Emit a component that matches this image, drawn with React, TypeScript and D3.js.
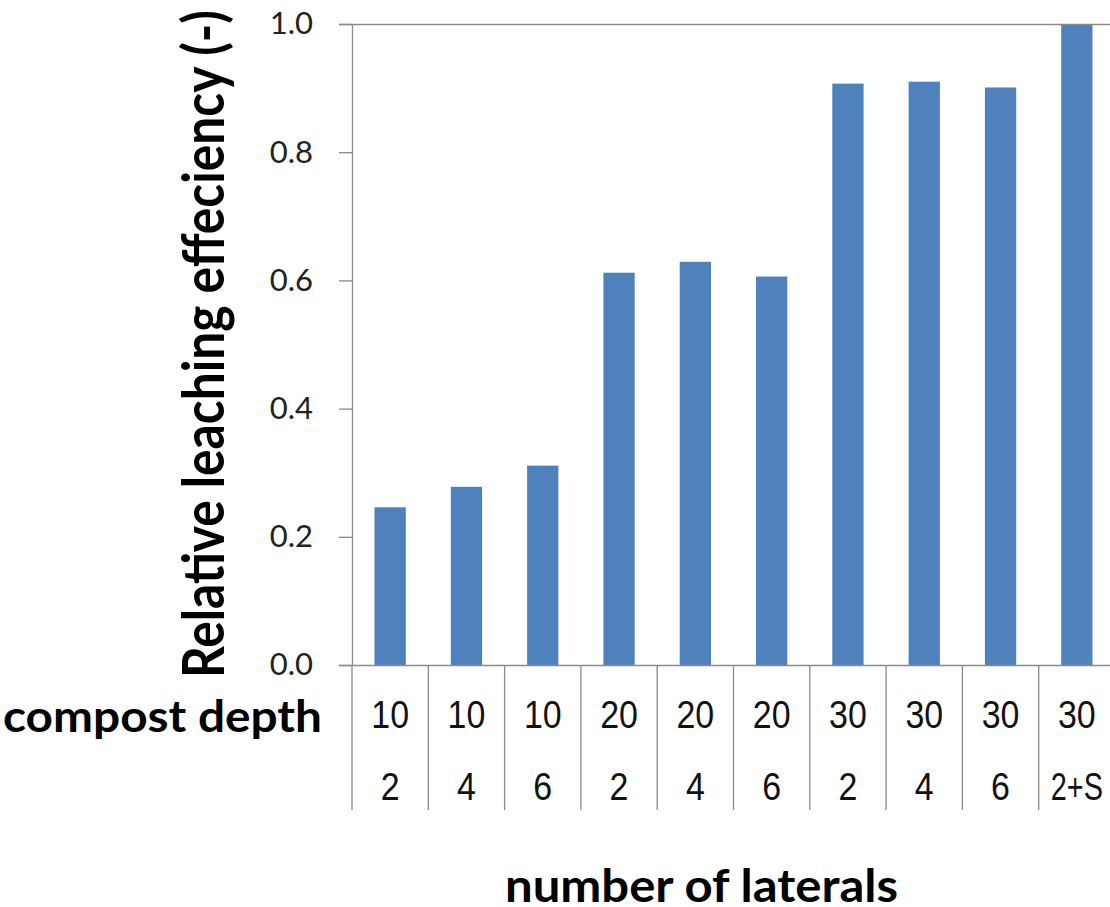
import React, { useEffect, useRef } from "react";
import * as d3 from "d3";

const compostDepth = ["10", "10", "10", "20", "20", "20", "30", "30", "30", "30"];
const laterals = ["2", "4", "6", "2", "4", "6", "2", "4", "6", "2+S"];
const efficiency = [0.246, 0.278, 0.311, 0.612, 0.629, 0.606, 0.907, 0.91, 0.901, 1.0];
const yTicks = [0, 0.2, 0.4, 0.6, 0.8, 1.0];

const App: React.FC = () => {
  const ref = useRef<SVGSVGElement | null>(null);

  useEffect(() => {
    const width = 1110;
    const height = 907;
    const left = 352;
    const right = 1115;
    const top = 24;
    const bottom = 665;
    const axisColor = "#8a8a8a";

    const svg = d3.select(ref.current);
    svg.selectAll("*").remove();
    svg.attr("width", width).attr("height", height);

    const idx = compostDepth.map((_, i) => i);

    const x = d3
      .scaleBand<number>()
      .domain(idx)
      .range([left, right])
      .paddingInner(0.59)
      .paddingOuter(0.295);

    const y = d3.scaleLinear().domain([0, 1]).range([bottom, top]);
    const step = (right - left) / idx.length;

    // bars
    svg
      .append("g")
      .selectAll("rect")
      .data(efficiency)
      .enter()
      .append("rect")
      .attr("x", (_, i) => x(i) as number)
      .attr("y", (d) => y(d))
      .attr("width", x.bandwidth())
      .attr("height", (d) => y(0) - y(d))
      .attr("fill", "#4F81BD");

    // top border line at 1.0
    svg
      .append("line")
      .attr("x1", left - 13)
      .attr("x2", width)
      .attr("y1", y(1) + 0.5)
      .attr("y2", y(1) + 0.5)
      .attr("stroke", axisColor)
      .attr("stroke-width", 1.3);

    // y axis
    const yAxis = d3
      .axisLeft(y)
      .tickValues(yTicks)
      .tickFormat(d3.format(".1f"))
      .tickSize(13)
      .tickSizeOuter(0)
      .tickPadding(26);

    const yAxisGroup = svg
      .append("g")
      .attr("transform", `translate(${left},0)`)
      .call(yAxis);
    yAxisGroup.selectAll("path, line").attr("stroke", axisColor).attr("stroke-width", 1.3);
    yAxisGroup
      .selectAll(".tick text")
      .attr("fill", "#222")
      .attr("font-size", 31)
      .attr("font-family", "Lato, 'Liberation Sans', sans-serif");

    // x axis line
    svg
      .append("line")
      .attr("x1", left - 13)
      .attr("x2", width)
      .attr("y1", y(0) + 0.5)
      .attr("y2", y(0) + 0.5)
      .attr("stroke", axisColor)
      .attr("stroke-width", 1.3);

    // category dividers
    svg
      .append("g")
      .selectAll("line")
      .data(d3.range(idx.length + 1))
      .enter()
      .append("line")
      .attr("x1", (i) => left + i * step)
      .attr("x2", (i) => left + i * step)
      .attr("y1", y(0))
      .attr("y2", 810)
      .attr("stroke", axisColor)
      .attr("stroke-width", 1.3);

    const labelFont = "'Liberation Sans', Arial, sans-serif";

    svg
      .append("g")
      .selectAll("text")
      .data(compostDepth)
      .enter()
      .append("text")
      .attr("transform", (_, i) => `translate(${left + (i + 0.5) * step},728) scale(0.87,1)`)
      .attr("text-anchor", "middle")
      .attr("font-size", 39)
      .attr("font-family", labelFont)
      .attr("fill", "#111")
      .text((d) => d);

    svg
      .append("g")
      .selectAll("text")
      .data(laterals)
      .enter()
      .append("text")
      .attr(
        "transform",
        (d, i) =>
          `translate(${left + (i + 0.5) * step},800) scale(${d.length > 2 ? 0.74 : 0.87},1)`
      )
      .attr("text-anchor", "middle")
      .attr("font-size", 39)
      .attr("font-family", labelFont)
      .attr("fill", "#111")
      .text((d) => d);

    const titleFont = "Lato, 'Open Sans', sans-serif";

    svg
      .append("text")
      .attr("x", 3)
      .attr("y", 732)
      .attr("font-size", 43)
      .attr("font-weight", "bold")
      .attr("font-family", titleFont)
      .attr("textLength", 319)
      .attr("lengthAdjust", "spacingAndGlyphs")
      .attr("fill", "#000")
      .text("compost depth");

    svg
      .append("text")
      .attr("x", 505)
      .attr("y", 902)
      .attr("font-size", 46)
      .attr("font-weight", "bold")
      .attr("font-family", titleFont)
      .attr("textLength", 393)
      .attr("lengthAdjust", "spacingAndGlyphs")
      .attr("fill", "#000")
      .text("number of laterals");

    svg
      .append("text")
      .attr("transform", "translate(224,344) rotate(-90)")
      .attr("text-anchor", "middle")
      .attr("font-size", 57)
      .attr("font-weight", "bold")
      .attr("font-family", titleFont)
      .attr("textLength", 668)
      .attr("lengthAdjust", "spacingAndGlyphs")
      .attr("fill", "#000")
      .text("Relative leaching effeciency (-)");
  }, []);

  return (
    <svg
      ref={ref}
      style={{ position: "absolute", left: 0, top: 0, background: "#fff" }}
    />
  );
};

export default App;
